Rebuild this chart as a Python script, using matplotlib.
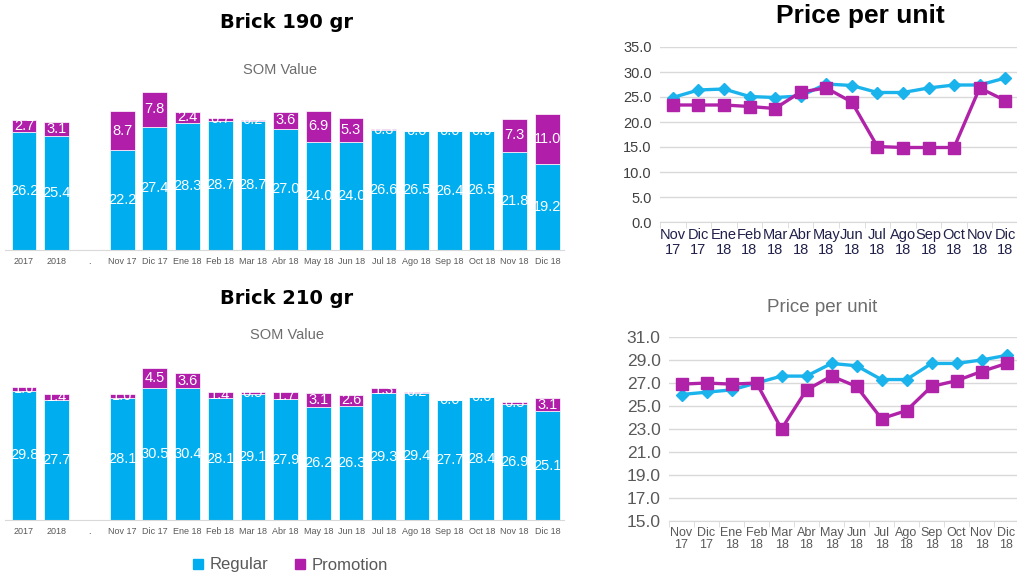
import numpy as np
import matplotlib
matplotlib.use("Agg")
import matplotlib.pyplot as plt
from matplotlib.lines import Line2D

plt.rcParams['font.family'] = ['Liberation Sans', 'DejaVu Sans']

# SOM value, stacked regular / promotion
bar_labels = ["2017", "2018", ".", "Nov 17", "Dic 17", "Ene 18", "Feb 18", "Mar 18", "Abr 18",
              "May 18", "Jun 18", "Jul 18", "Ago 18", "Sep 18", "Oct 18", "Nov 18", "Dic 18"]
b190_regular = [26.2, 25.4, np.nan, 22.2, 27.4, 28.3, 28.7, 28.7, 27.0, 24.0, 24.0, 26.6, 26.5, 26.4, 26.5, 21.8, 19.2]
b190_promo = [2.7, 3.1, np.nan, 8.7, 7.8, 2.4, 0.7, 0.2, 3.6, 6.9, 5.3, 0.3, 0.0, 0.0, 0.0, 7.3, 11.0]
b210_regular = [29.8, 27.7, np.nan, 28.1, 30.5, 30.4, 28.1, 29.1, 27.9, 26.2, 26.3, 29.3, 29.4, 27.7, 28.4, 26.9, 25.1]
b210_promo = [1.0, 1.4, np.nan, 1.0, 4.5, 3.6, 1.4, 0.5, 1.7, 3.1, 2.6, 1.3, 0.2, 0.0, 0.0, 0.3, 3.1]

# price per unit, monthly
months = ["Nov\n17", "Dic\n17", "Ene\n18", "Feb\n18", "Mar\n18", "Abr\n18", "May\n18",
          "Jun\n18", "Jul\n18", "Ago\n18", "Sep\n18", "Oct\n18", "Nov\n18", "Dic\n18"]
p190_regular = [24.9, 26.4, 26.6, 25.1, 24.9, 25.2, 27.6, 27.3, 25.9, 25.9, 26.8, 27.4, 27.4, 28.8]
p190_promo = [23.4, 23.4, 23.4, 23.1, 22.7, 26.0, 26.8, 24.0, 15.1, 14.9, 14.9, 14.9, 26.8, 24.3]
p210_regular = [26.0, 26.2, 26.4, 27.0, 27.6, 27.6, 28.7, 28.5, 27.3, 27.3, 28.7, 28.7, 29.0, 29.4]
p210_promo = [26.9, 27.0, 26.9, 27.0, 23.0, 26.4, 27.6, 26.7, 23.9, 24.6, 26.7, 27.2, 28.0, 28.7]

BLUE = '#00AEEF'
PURPLE = '#B01EAA'
LBLUE = '#1AB3EC'
LPURPLE = '#B023A9'

W, H = 1017, 576
fig = plt.figure(figsize=(W / 100, H / 100), dpi=100)


def box(x0, y0, x1, y1):
    # pixel box (top-left origin) -> figure fraction rect
    return [x0 / W, 1 - y1 / H, (x1 - x0) / W, (y1 - y0) / H]


def stacked(ax, regular, promo, top):
    x = np.arange(len(bar_labels))
    reg = np.array(regular)
    pro = np.array(promo)
    ax.bar(x, reg, width=0.76, color=BLUE, edgecolor='white', linewidth=0.5)
    ax.bar(x, pro, width=0.76, bottom=reg, color=PURPLE, edgecolor='white', linewidth=0.5)
    for i in x:
        if np.isnan(reg[i]):
            continue
        ax.text(i, reg[i] / 2, f"{reg[i]:.1f}", ha='center', va='center', color='white', fontsize=10.5)
        ax.text(i, reg[i] + pro[i] / 2, f"{pro[i]:.1f}", ha='center', va='center', color='white', fontsize=10.5)
    ax.set_xlim(-0.58, 16.51)
    ax.set_ylim(0, top)
    ax.set_xticks(x)
    ax.set_xticklabels(bar_labels, fontsize=6.5, color='#595959')
    ax.tick_params(axis='x', length=0, pad=5)
    ax.set_yticks([])
    for s in ['top', 'right', 'left']:
        ax.spines[s].set_visible(False)
    ax.spines['bottom'].set_color('#d9d9d9')


ax1 = fig.add_axes(box(5, 79, 564, 250))
stacked(ax1, b190_regular, b190_promo, 171 / 4.5)
ax2 = fig.add_axes(box(5, 350, 564, 520))
stacked(ax2, b210_regular, b210_promo, 170 / 4.33)

fig.text(287 / W, 1 - 22 / H, "Brick 190 gr", ha='center', va='center', fontsize=14,
         fontweight='bold', family='DejaVu Sans')
fig.text(280 / W, 1 - 70 / H, "SOM Value", ha='center', va='center', fontsize=10.5, color='#6d6d6d')
fig.text(287 / W, 1 - 298 / H, "Brick 210 gr", ha='center', va='center', fontsize=14,
         fontweight='bold', family='DejaVu Sans')
fig.text(287 / W, 1 - 335 / H, "SOM Value", ha='center', va='center', fontsize=10.5, color='#6d6d6d')


def price(ax, reg, pro, ylim, step, lab_col, lab_size, xcol, xsize):
    x = np.arange(len(months))
    ax.plot(x, reg, color=LBLUE, lw=2.4, marker='D', ms=6, zorder=3)
    ax.plot(x, pro, color=LPURPLE, lw=2.4, marker='s', ms=9, zorder=4)
    ax.set_xlim(-0.5, 13.5)
    ax.set_ylim(*ylim)
    ax.set_yticks(np.arange(ylim[0], ylim[1] + 0.01, step))
    ax.yaxis.set_major_formatter(matplotlib.ticker.FormatStrFormatter('%.1f'))
    ax.grid(axis='y', color='#d9d9d9', lw=1)
    ax.set_axisbelow(True)
    ax.set_xticks(x)
    ax.set_xticklabels(months, fontsize=xsize, color=xcol, linespacing=1.1)
    ax.set_xticks(np.arange(-0.5, 14, 1), minor=True)
    ax.tick_params(axis='x', which='major', length=0, pad=4)
    ax.tick_params(axis='x', which='minor', length=4, color='#d9d9d9')
    ax.tick_params(axis='y', length=0, labelsize=lab_size, labelcolor=lab_col, pad=6)
    for s in ['top', 'right', 'left']:
        ax.spines[s].set_visible(False)
    ax.spines['bottom'].set_color('#d9d9d9')


ax3 = fig.add_axes(box(660, 47, 1018, 222))
price(ax3, p190_regular, p190_promo, (0, 35), 5, '#404040', 10.5, '#20204a', 10.5)
fig.text(860 / W, 1 - 16 / H, "Price per unit", ha='center', va='center', fontsize=19, fontweight='bold')

ax4 = fig.add_axes(box(669, 337, 1019, 521))
price(ax4, p210_regular, p210_promo, (15, 31), 2, '#595959', 12.5, '#595959', 9)
fig.text(822 / W, 1 - 308 / H, "Price per unit", ha='center', va='center', fontsize=13.5, color='#6d6d6d')

handles = [Line2D([], [], ls='none', marker='s', ms=7, color=BLUE),
           Line2D([], [], ls='none', marker='s', ms=7, color=PURPLE)]
fig.legend(handles, ["Regular", "Promotion"], loc='center', bbox_to_anchor=(290 / W, 1 - 565 / H),
           ncol=2, frameon=False, fontsize=12, labelcolor='#595959', handlelength=0.8,
           handletextpad=0.3, columnspacing=1.5)

fig.savefig("out.png", dpi=100)
